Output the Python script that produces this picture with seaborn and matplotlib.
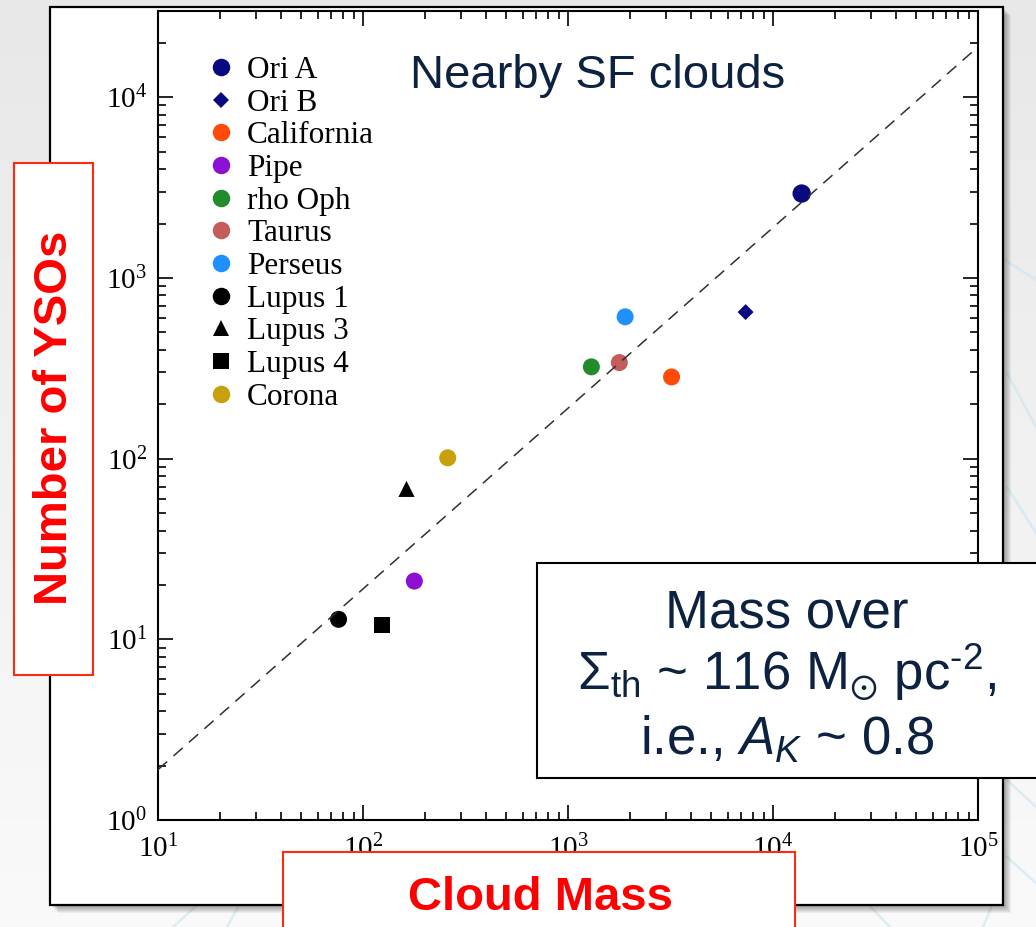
import numpy as np
import pandas as pd
import matplotlib
matplotlib.use('Agg')
import matplotlib.pyplot as plt
import seaborn as sns
from matplotlib.patches import Rectangle
from matplotlib.lines import Line2D

# ---------------- data ----------------
clouds = ['Ori A', 'Ori B', 'California', 'Pipe', 'rho Oph', 'Taurus',
          'Perseus', 'Lupus 1', 'Lupus 3', 'Lupus 4', 'Corona']
cloud_mass = [13800, 7350, 3200, 178, 1300, 1780, 1900, 76, 163, 124, 259]
n_ysos = [2930, 647, 283, 21, 322, 340, 609, 12.9, 68, 12.0, 101]
colors = ['#0a0a80', '#0a0a80', '#ff4a0a', '#8c10d4', '#238b2a', '#c45c5c',
          '#2090ff', '#000000', '#000000', '#000000', '#c8a00c']
markers = ['o', 'D', 'o', 'o', 'o', 'o', 'o', 'o', '^', 's', 'o']
marker_area = [175, 66, 150, 150, 150, 150, 150, 150, 135, 140, 150]
legend_ms = [12.6, 8.6, 12.6, 12.6, 12.6, 12.6, 12.6, 12.6, 11.8, 11.2, 12.6]

# dashed relation N = norm * M^slope
fit_norm = 0.19
fit_slope = 1.0
x_range = [10, 1e5]
y_range = [1, 3e4]

W, H = 1036, 927
plt.rcParams['mathtext.fontset'] = 'custom'
plt.rcParams['mathtext.rm'] = 'Liberation Sans'
plt.rcParams['mathtext.it'] = 'Liberation Sans:italic'
plt.rcParams['mathtext.bf'] = 'Liberation Sans:bold'
plt.rcParams['mathtext.fallback'] = 'stixsans'

fig = plt.figure(figsize=(W / 100, H / 100), dpi=100)
fig.patch.set_facecolor('#ececec')

def fx(px):
    return px / W

def fy(py):
    return 1 - py / H

# background gradient
bg = fig.add_axes([0, 0, 1, 1], zorder=-10)
grad = np.linspace(0, 1, 200)[:, None] * np.ones((1, 50))
bg.imshow(grad, cmap=matplotlib.colors.LinearSegmentedColormap.from_list('g', ['#e8e8e8', '#fafafa']),
          aspect='auto', extent=[0, 1, 0, 1], origin='upper')
bg.set_xlim(0, 1); bg.set_ylim(0, 1)
bg.axis('off')
# faint decorative lines
deco = [((1005, 260), (1036, 280)), ((1007, 373), (1036, 427)), ((1007, 487), (1036, 533)),
        ((173, 927), (195, 907)), ((227, 927), (238, 907)), ((1007, 780), (1036, 807)),
        ((1007, 857), (1036, 883)), ((867, 903), (890, 927)), ((993, 903), (983, 927))]
for (a, b) in deco:
    bg.plot([fx(a[0]), fx(b[0])], [fy(a[1]), fy(b[1])], color='#c8e4f2', lw=1.8, alpha=0.6)

# white panel with shadow
px0, py0, px1, py1 = 50, 7, 1003, 905
for k in range(1, 9):
    fig.add_artist(Rectangle((fx(px0 + k), fy(py1 + k)), fx(px1 - px0), (py1 - py0) / H,
                             transform=fig.transFigure, facecolor='#000000', alpha=0.05,
                             edgecolor='none', zorder=-6))
fig.add_artist(Rectangle((fx(px0), fy(py1)), fx(px1 - px0), (py1 - py0) / H,
                         transform=fig.transFigure, facecolor='white', edgecolor='black',
                         lw=1.6, zorder=-5))

# ---------------- axes ----------------
ax = fig.add_axes([fx(158), fy(820), fx(978 - 158), (820 - 11) / H])
ax.set_facecolor('none')
df = pd.DataFrame({'cloud': clouds, 'mass': cloud_mass, 'nyso': n_ysos})
pal = dict(zip(clouds, colors))
mk = dict(zip(clouds, markers))
sz = dict(zip(clouds, marker_area))

ax.set_xscale('log')
ax.set_yscale('log')
xs = np.array(x_range, dtype=float)
ax.plot(xs, fit_norm * xs ** fit_slope, color='#303030', lw=1.1, dashes=(8, 5.5), zorder=4)
sns.scatterplot(data=df, x='mass', y='nyso', hue='cloud', style='cloud', size='cloud',
                palette=pal, markers=mk, sizes=sz, hue_order=clouds, style_order=clouds,
                size_order=clouds, edgecolor='none', linewidth=0, legend=False, ax=ax, zorder=3)
ax.set_xlim(*x_range)
ax.set_ylim(*y_range)
ax.set_xlabel('')
ax.set_ylabel('')
for s in ax.spines.values():
    s.set_linewidth(1.5)
ax.tick_params(which='both', direction='in', top=True, right=True, width=1.2,
               labelsize=21, labelfontfamily='Liberation Serif', colors='black')
ax.tick_params(which='major', length=11)
ax.tick_params(which='minor', length=5.5)
ax.tick_params(axis='x', pad=11)
ax.tick_params(axis='y', pad=8)

handles = [Line2D([], [], ls='none', marker=m, color=c, markersize=ms, markeredgewidth=0)
           for m, c, ms in zip(markers, colors, legend_ms)]
ax.legend(handles, clouds, loc='upper left', bbox_to_anchor=(0.0578, 0.9445),
          frameon=False, borderpad=0, borderaxespad=0, handlelength=1.0,
          handletextpad=0.33, labelspacing=0.118,
          prop={'family': 'Liberation Serif', 'size': 22.5})

# ---------------- annotations ----------------
navy = '#0c2240'
fig.text(fx(410), fy(88), 'Nearby SF clouds', fontsize=34, color=navy,
         family='Liberation Sans', ha='left', va='baseline')

# y label box
fig.add_artist(Rectangle((fx(14), fy(675)), fx(93 - 14), (675 - 163) / H,
                         transform=fig.transFigure, facecolor='white',
                         edgecolor='#ff2a10', lw=1.5, zorder=5))
fig.text(fx(55), fy(418), 'Number of YSOs', rotation=90, fontsize=34, fontweight='bold',
         color='#ff0000', family='Liberation Sans', ha='center', va='center', zorder=6)

# x label box
fig.add_artist(Rectangle((fx(283), fy(940)), fx(795 - 283), (940 - 852) / H,
                         transform=fig.transFigure, facecolor='white',
                         edgecolor='#ff2a10', lw=1.5, zorder=5))
fig.text(fx(540), fy(910), 'Cloud Mass', fontsize=34, fontweight='bold',
         color='#ff0000', family='Liberation Sans', ha='center', va='baseline', zorder=6)

# info box
fig.add_artist(Rectangle((fx(537), fy(778)), fx(1040 - 537), (778 - 563) / H,
                         transform=fig.transFigure, facecolor='white',
                         edgecolor='black', lw=1.5, zorder=5))
box_lines = ['Mass over',
             r'$\Sigma_{\mathrm{th}}$ ~ 116 M$_{\odot}$ pc$^{\mathrm{' + '\u2010' + r'2}}$,',
             r'i.e., $A_K$ ~ 0.8']
for txt, base in zip(box_lines, [627, 690, 755]):
    fig.text(fx(787), fy(base), txt, fontsize=38, color=navy, family='Liberation Sans',
             ha='center', va='baseline', zorder=6, math_fontfamily='custom')

fig.savefig('out.png', dpi=100, facecolor=fig.get_facecolor())
